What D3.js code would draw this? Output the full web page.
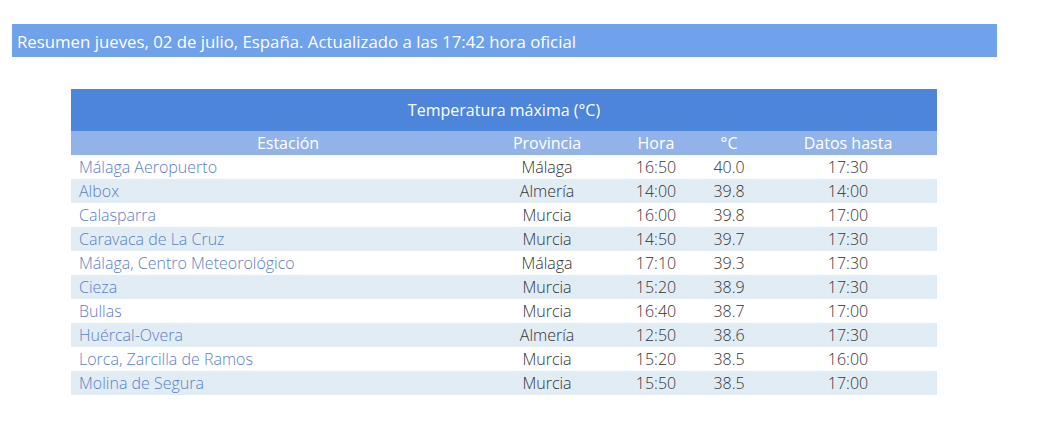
<!DOCTYPE html>
<html lang="es">
<head>
  <meta charset="utf-8">
  <script src="https://d3js.org/d3.v7.min.js"></script>
  <style>
    body { margin: 0; background: #fff; font-family: "Open Sans", sans-serif; }
  </style>
</head>
<body>
<script>
// datos de la tabla
const resumen = "Resumen jueves, 02 de julio, España. Actualizado a las 17:42 hora oficial";
const titulo = "Temperatura máxima (°C)";
const columnas = ["Estación", "Provincia", "Hora", "°C", "Datos hasta"];
const estaciones = ["Málaga Aeropuerto", "Albox", "Calasparra", "Caravaca de La Cruz",
  "Málaga, Centro Meteorológico", "Cieza", "Bullas", "Huércal-Overa",
  "Lorca, Zarcilla de Ramos", "Molina de Segura"];
const provincias = ["Málaga", "Almería", "Murcia", "Murcia", "Málaga", "Murcia",
  "Murcia", "Almería", "Murcia", "Murcia"];
const horas = ["16:50", "14:00", "16:00", "14:50", "17:10", "15:20", "16:40", "12:50", "15:20", "15:50"];
const temps = [40.0, 39.8, 39.8, 39.7, 39.3, 38.9, 38.7, 38.6, 38.5, 38.5];
const datosHasta = ["17:30", "14:00", "17:00", "17:30", "17:30", "17:30", "17:00", "17:30", "16:00", "17:00"];

const W = 1063, H = 423;
const tableLeft = 71, tableRight = 937;

const svg = d3.select("body").append("svg")
  .attr("width", W)
  .attr("height", H);

// barra de resumen
svg.append("rect")
  .attr("x", 12).attr("y", 24)
  .attr("width", 985).attr("height", 33)
  .attr("fill", "#70a1eb");
svg.append("text")
  .attr("x", 17).attr("y", 41)
  .attr("dominant-baseline", "central")
  .attr("fill", "#fff")
  .style("font-size", "16.8px")
  .text(resumen);

// fila de título
svg.append("rect")
  .attr("x", tableLeft).attr("y", 89)
  .attr("width", tableRight - tableLeft).attr("height", 42)
  .attr("fill", "#4c85d9");
svg.append("text")
  .attr("x", (tableLeft + tableRight) / 2).attr("y", 110)
  .attr("text-anchor", "middle")
  .attr("dominant-baseline", "central")
  .attr("fill", "#fff")
  .style("font-size", "16px")
  .text(titulo);

// cabecera
svg.append("rect")
  .attr("x", tableLeft).attr("y", 131)
  .attr("width", tableRight - tableLeft).attr("height", 24)
  .attr("fill", "#91b3e9");

// centros de columna
const colX = d3.scaleOrdinal()
  .domain(columnas)
  .range([288, 547, 656, 729, 848]);

svg.selectAll("text.head")
  .data(columnas)
  .join("text")
  .attr("class", "head")
  .attr("x", d => colX(d))
  .attr("y", 143)
  .attr("text-anchor", "middle")
  .attr("dominant-baseline", "central")
  .attr("fill", "#fff")
  .style("font-size", "16px")
  .text(d => d);

// filas
const y = d3.scaleBand()
  .domain(d3.range(estaciones.length))
  .range([155, 395]);

const rows = svg.selectAll("g.row")
  .data(d3.range(estaciones.length))
  .join("g")
  .attr("class", "row")
  .attr("transform", i => `translate(0,${y(i)})`);

rows.append("rect")
  .attr("x", tableLeft)
  .attr("width", tableRight - tableLeft)
  .attr("height", y.bandwidth())
  .attr("fill", i => i % 2 ? "#e2ecf5" : "#fff");

const cy = y.bandwidth() / 2;

rows.append("text")
  .attr("x", 79).attr("y", cy)
  .attr("dominant-baseline", "central")
  .attr("fill", "#5b7fc6")
  .style("font-size", "16px").style("font-weight", 300)
  .text(i => estaciones[i]);

const celdas = [
  ["Provincia", provincias],
  ["Hora", horas],
  ["°C", temps.map(v => v.toFixed(1))],
  ["Datos hasta", datosHasta]
];
celdas.forEach(([col, vals]) => {
  rows.append("text")
    .attr("x", colX(col)).attr("y", cy)
    .attr("text-anchor", "middle")
    .attr("dominant-baseline", "central")
    .attr("fill", "#333")
    .style("font-size", "16px").style("font-weight", 300)
    .text(i => vals[i]);
});
</script>
</body>
</html>
